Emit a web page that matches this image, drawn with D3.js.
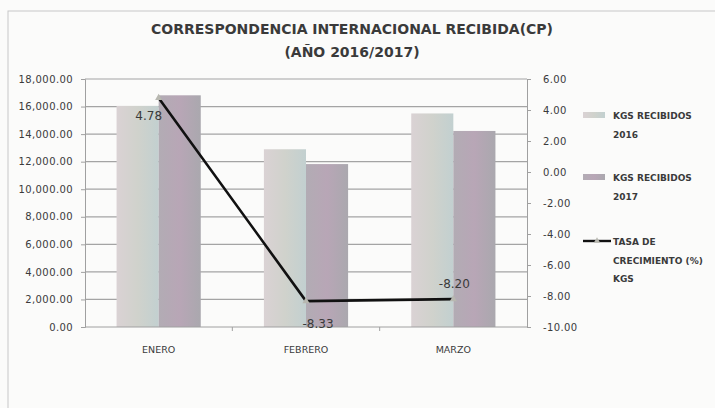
<!DOCTYPE html>
<html>
<head>
<meta charset="utf-8">
<script src="https://cdn.jsdelivr.net/npm/d3@7"></script>
<style>
  body { margin: 0; background: #fbfbfa; }
  text { font-family: "DejaVu Sans", sans-serif; fill: #3a3a3a; }
</style>
</head>
<body>
<div class="chart"></div>
<script>
const months = ['ENERO', 'FEBRERO', 'MARZO'];
const series = ['KGS RECIBIDOS 2016', 'KGS RECIBIDOS 2017'];
const kgs2016 = [16050, 12900, 15500];
const kgs2017 = [16817, 11825, 14229];
const growth = [4.78, -8.33, -8.20];
const leftTicks = [0, 2000, 4000, 6000, 8000, 10000, 12000, 14000, 16000, 18000];
const rightTicks = [-10, -8, -6, -4, -2, 0, 2, 4, 6];

const width = 715;
const height = 408;
const plotTop = 79, plotBottom = 327, plotLeft = 85, plotRight = 527;

const svg = d3.select('.chart').append('svg')
  .attr('width', width)
  .attr('height', height);

// bar textures (scanned look)
const defs = svg.append('defs');
const g1 = defs.append('linearGradient').attr('id', 'g2016');
g1.append('stop').attr('offset', '0%').attr('stop-color', '#dad2d4');
g1.append('stop').attr('offset', '50%').attr('stop-color', '#d0d2cc');
g1.append('stop').attr('offset', '100%').attr('stop-color', '#c2d0d0');
const g2 = defs.append('linearGradient').attr('id', 'g2017');
g2.append('stop').attr('offset', '0%').attr('stop-color', '#b2acb4');
g2.append('stop').attr('offset', '50%').attr('stop-color', '#b8a6b6');
g2.append('stop').attr('offset', '100%').attr('stop-color', '#aaa8ae');

// outer frame
svg.append('rect')
  .attr('x', 8).attr('y', 11)
  .attr('width', 720).attr('height', 410)
  .attr('fill', 'none')
  .attr('stroke', '#c8c8c8');

const x = d3.scaleBand().domain(months).range([plotLeft, plotRight]);
const xs = d3.scaleBand().domain(series).range([0, x.bandwidth()]).paddingOuter(0.75);
const yL = d3.scaleLinear().domain([0, 18000]).range([plotBottom, plotTop]);
const yR = d3.scaleLinear().domain([-10, 6]).range([plotBottom, plotTop]);

// gridlines
svg.selectAll('.grid')
  .data(leftTicks.filter(d => d > 0))
  .enter()
  .append('line')
  .attr('class', 'grid')
  .attr('x1', plotLeft).attr('x2', plotRight)
  .attr('y1', d => yL(d)).attr('y2', d => yL(d))
  .attr('stroke', '#a4a4a4')
  .attr('stroke-width', 1.2);

// bars
const rows = months.map((m, i) => ({month: m, values: [kgs2016[i], kgs2017[i]]}));
const groups = svg.selectAll('.group')
  .data(rows)
  .enter()
  .append('g')
  .attr('transform', d => `translate(${x(d.month)},0)`);

groups.selectAll('rect')
  .data(d => d.values.map((v, j) => ({s: series[j], v, j})))
  .enter()
  .append('rect')
  .attr('x', d => xs(d.s))
  .attr('y', d => yL(d.v))
  .attr('width', xs.bandwidth())
  .attr('height', d => plotBottom - yL(d.v))
  .attr('fill', d => d.j === 0 ? 'url(#g2016)' : 'url(#g2017)');

// axes
const leftAxis = svg.append('g')
  .attr('transform', `translate(${plotLeft},0)`)
  .call(d3.axisLeft(yL).tickValues(leftTicks).tickFormat(d3.format(',.2f')).tickSize(4).tickPadding(8));
const rightAxis = svg.append('g')
  .attr('transform', `translate(${plotRight},0)`)
  .call(d3.axisRight(yR).tickValues(rightTicks).tickFormat(d => d.toFixed(2)).tickSize(4).tickPadding(12));
[leftAxis, rightAxis].forEach(a => {
  a.selectAll('path, line').attr('stroke', '#a0a0a0');
  a.selectAll('text').attr('font-size', 10).attr('letter-spacing', 0.4).attr('fill', '#3a3a3a').attr('font-family', '"DejaVu Sans", sans-serif');
});
rightAxis.selectAll('text').attr('text-anchor', 'start');

// category axis
svg.append('line')
  .attr('x1', plotLeft).attr('x2', plotRight)
  .attr('y1', plotBottom).attr('y2', plotBottom)
  .attr('stroke', '#a0a0a0');
svg.selectAll('.xtick')
  .data(months.slice(1))
  .enter()
  .append('line')
  .attr('x1', d => x(d)).attr('x2', d => x(d))
  .attr('y1', plotBottom).attr('y2', plotBottom + 4)
  .attr('stroke', '#a0a0a0');
svg.selectAll('.xlabel')
  .data(months)
  .enter()
  .append('text')
  .attr('x', d => x(d) + x.bandwidth() / 2)
  .attr('y', 353)
  .attr('text-anchor', 'middle')
  .attr('font-size', 9.5)
  .text(d => d);

// growth line
const pts = months.map((m, i) => ({m, v: growth[i]}));
const line = d3.line()
  .x(d => x(d.m) + x.bandwidth() / 2)
  .y(d => yR(d.v));
svg.append('path')
  .datum(pts)
  .attr('d', line)
  .attr('fill', 'none')
  .attr('stroke', '#111')
  .attr('stroke-width', 2.6);
svg.selectAll('.marker')
  .data(pts)
  .enter()
  .append('path')
  .attr('d', d3.symbol(d3.symbolTriangle, 22))
  .attr('transform', d => `translate(${x(d.m) + x.bandwidth() / 2},${yR(d.v)})`)
  .attr('fill', '#b8b8b0');

const labelOffsets = [[-10, 22], [12, 27], [1, -11]];
svg.selectAll('.dlabel')
  .data(pts)
  .enter()
  .append('text')
  .attr('x', (d, i) => x(d.m) + x.bandwidth() / 2 + labelOffsets[i][0])
  .attr('y', (d, i) => yR(d.v) + labelOffsets[i][1])
  .attr('text-anchor', 'middle')
  .attr('font-size', 12)
  .attr('fill', '#222')
  .text(d => d.v.toFixed(2));

// title
svg.append('text')
  .attr('x', 352).attr('y', 34)
  .attr('text-anchor', 'middle')
  .attr('font-size', 14)
  .attr('font-weight', 'bold')
  .attr('fill', '#333')
  .text('CORRESPONDENCIA INTERNACIONAL RECIBIDA(CP)');
svg.append('text')
  .attr('x', 352).attr('y', 57)
  .attr('text-anchor', 'middle')
  .attr('font-size', 14)
  .attr('font-weight', 'bold')
  .attr('fill', '#333')
  .text('(AÑO 2016/2017)');

// legend
const legendItems = [
  {lines: ['KGS RECIBIDOS', '2016'], y: 116, type: 'bar', fill: 'url(#g2016)'},
  {lines: ['KGS RECIBIDOS', '2017'], y: 178, type: 'bar', fill: 'url(#g2017)'},
  {lines: ['TASA DE', 'CRECIMIENTO  (%)', 'KGS'], y: 242, type: 'line'}
];
const leg = svg.selectAll('.legend')
  .data(legendItems)
  .enter()
  .append('g')
  .attr('transform', d => `translate(583,${d.y})`);
leg.filter(d => d.type === 'bar')
  .append('rect')
  .attr('x', 0).attr('y', -4)
  .attr('width', 22).attr('height', 6)
  .attr('fill', d => d.fill);
leg.filter(d => d.type === 'line')
  .append('line')
  .attr('x1', 0).attr('x2', 28).attr('y1', -1).attr('y2', -1)
  .attr('stroke', '#111').attr('stroke-width', 2.4);
leg.filter(d => d.type === 'line')
  .append('path')
  .attr('d', d3.symbol(d3.symbolTriangle, 18))
  .attr('transform', 'translate(14,-1)')
  .attr('fill', '#b8b8b0');
leg.selectAll('text')
  .data(d => d.lines)
  .enter()
  .append('text')
  .attr('x', 30)
  .attr('y', (d, i) => 3 + i * 18.5)
  .attr('font-size', 9)
  .attr('font-weight', 'bold')
  .attr('fill', '#3a3a3a')
  .text(d => d);
</script>
</body>
</html>
